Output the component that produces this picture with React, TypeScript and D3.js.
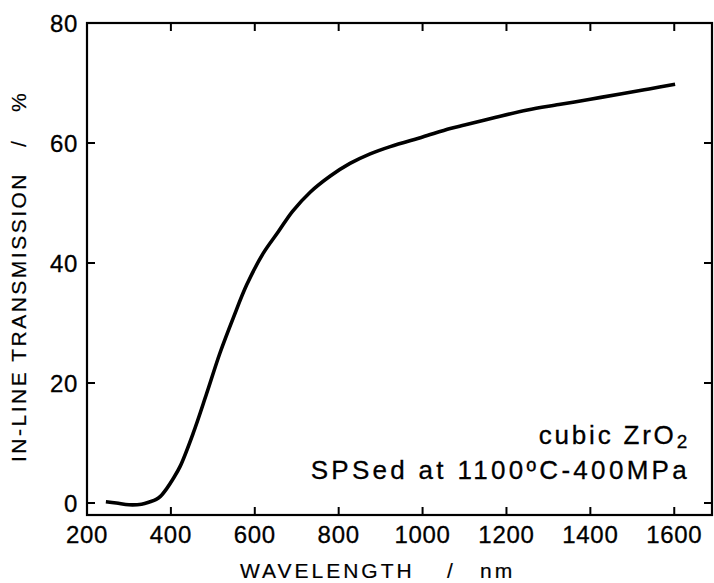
import { useEffect, useRef } from 'react';
import * as d3 from 'd3';

// transmission spectrum
const wavelength = [245, 270, 300, 330, 350, 365, 375, 390, 405, 422, 453, 485, 517, 549, 581, 620, 656, 690, 732, 780, 827, 875, 923, 1000, 1066, 1100, 1175, 1250, 1325, 1400, 1475, 1540, 1602];
const transmission = [0.2, 0.0, -0.3, -0.2, 0.2, 0.6, 1.1, 2.4, 4.0, 6.1, 11.6, 18.2, 25.0, 30.9, 36.4, 41.6, 45.2, 48.6, 51.8, 54.5, 56.6, 58.2, 59.4, 61.0, 62.4, 63.0, 64.3, 65.5, 66.4, 67.3, 68.2, 69.0, 69.8];
const xTicks = [200, 400, 600, 800, 1000, 1200, 1400, 1600];
const yTicks = [0, 20, 40, 60, 80];

const W = 714;
const H = 583;
const FONT = '"Liberation Sans", Arial, sans-serif';

const App = () => {
  const svgRef = useRef<SVGSVGElement | null>(null);

  useEffect(() => {
    const svg = d3.select(svgRef.current);
    svg.selectAll('*').remove();

    const x = d3.scaleLinear().domain([200, 1690]).range([87, 712]);
    const y = d3.scaleLinear().domain([-2, 80]).range([515, 23]);
    const [x0, x1] = x.range();
    const [y0, y1] = y.range();

    // frame
    svg.append('rect')
      .attr('x', x0).attr('y', y1)
      .attr('width', x1 - x0).attr('height', y0 - y1)
      .attr('fill', 'none').attr('stroke', '#000').attr('stroke-width', 2.2);

    const tl = 8;
    const g = svg.append('g').attr('stroke', '#000').attr('stroke-width', 2);
    xTicks.filter(t => t > 200).forEach(t => {
      g.append('line').attr('x1', x(t)).attr('x2', x(t)).attr('y1', y0).attr('y2', y0 - tl);
      g.append('line').attr('x1', x(t)).attr('x2', x(t)).attr('y1', y1).attr('y2', y1 + tl);
    });
    yTicks.filter(t => t < 80).forEach(t => {
      g.append('line').attr('x1', x0).attr('x2', x0 + tl).attr('y1', y(t)).attr('y2', y(t));
      g.append('line').attr('x1', x1).attr('x2', x1 - tl).attr('y1', y(t)).attr('y2', y(t));
    });

    const labels = svg.append('g')
      .style('font-family', FONT).style('font-size', '24px').style('letter-spacing', '0.7px')
      .attr('stroke', '#000').attr('stroke-width', 0.3);
    labels.selectAll('text.xt').data(xTicks).join('text')
      .attr('class', 'xt')
      .attr('x', d => x(d)).attr('y', 543)
      .attr('text-anchor', 'middle')
      .text(d => d);
    labels.selectAll('text.yt').data(yTicks).join('text')
      .attr('class', 'yt')
      .attr('x', 78).attr('y', d => y(d) + 8.5)
      .attr('text-anchor', 'end')
      .text(d => d);

    // curve
    const line = d3.line<number>()
      .x((_, i) => x(wavelength[i]))
      .y(d => y(d))
      .curve(d3.curveCatmullRom.alpha(0.5));
    svg.append('path')
      .datum(transmission)
      .attr('d', line)
      .attr('fill', 'none')
      .attr('stroke', '#000')
      .attr('stroke-width', 3.6)
      .attr('stroke-linecap', 'butt');

    // axis titles
    const titles = svg.append('g')
      .style('font-family', FONT).style('font-size', '21px').style('letter-spacing', '3px')
      .attr('stroke', '#000').attr('stroke-width', 0.2);
    titles.append('text').attr('x', 240).attr('y', 578).text('WAVELENGTH');
    titles.append('text').attr('x', 447).attr('y', 578).text('/');
    titles.append('text').attr('x', 480).attr('y', 578).text('nm');

    const yt = titles.append('g').attr('transform', 'translate(26,0) rotate(-90)').style('letter-spacing', '2.5px');
    yt.append('text').attr('x', -462).attr('y', 0).text('IN-LINE TRANSMISSION');
    yt.append('text').attr('x', -147).attr('y', 0).text('/');
    yt.append('text').attr('x', -112).attr('y', 0).text('%');

    // annotation
    const note = svg.append('g')
      .style('font-family', FONT).style('font-size', '26px').style('letter-spacing', '2.8px')
      .attr('text-anchor', 'end')
      .attr('stroke', '#000').attr('stroke-width', 0.3);
    const t1 = note.append('text').attr('x', 690).attr('y', 444);
    t1.append('tspan').text('cubic ZrO');
    t1.append('tspan').attr('dy', 4).style('font-size', '19px').text('2');
    note.append('text').attr('x', 690).attr('y', 479).style('letter-spacing', '3.3px').text('SPSed  at  1100ºC-400MPa');
  }, []);

  return (
    <svg
      ref={svgRef}
      width={W}
      height={H}
      style={{ position: 'absolute', left: 0, top: 0, background: '#fff', whiteSpace: 'pre' }}
    />
  );
};

export default App;
